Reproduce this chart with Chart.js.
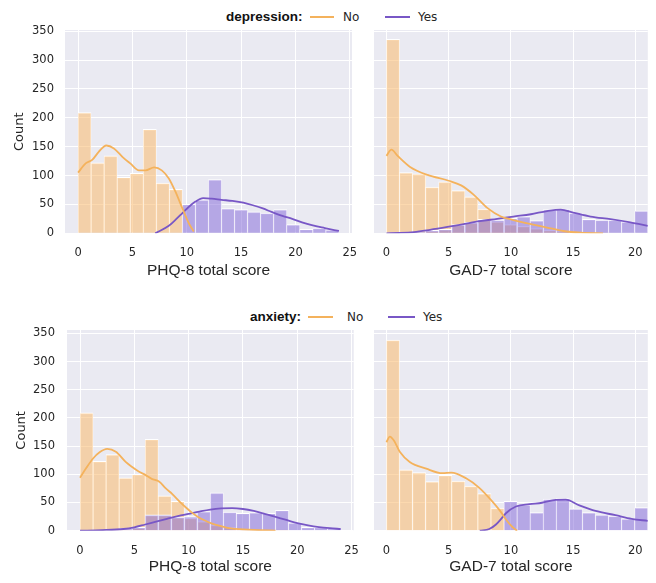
<!DOCTYPE html>
<html>
<head>
<meta charset="utf-8">
<script src="https://cdn.jsdelivr.net/npm/chart.js@4.4.0/dist/chart.umd.min.js"></script>
<style>
  body { margin:0; background:#fff; width:656px; height:583px; position:relative; overflow:hidden; font-family:"DejaVu Sans"; color:#262626; }
  canvas { position:absolute; }
  .lg { position:absolute; font-size:12px; line-height:14px; white-space:nowrap; }
  .lgTitle { font-family:"Liberation Sans"; font-weight:bold; font-size:13.5px; color:#111; }
  .sw { position:absolute; height:2px; }
</style>
</head>
<body>
<div class="lg lgTitle" style="left:226px; top:10px">depression:</div>
<div class="sw" style="left:310px; top:16px; width:24px; background:#f4b25c"></div>
<div class="lg" style="left:343px; top:10px">No</div>
<div class="sw" style="left:385px; top:16px; width:25px; background:#7857c6"></div>
<div class="lg" style="left:418px; top:10px">Yes</div>

<div class="lg lgTitle" style="left:250px; top:310px">anxiety:</div>
<div class="sw" style="left:308px; top:316px; width:25px; background:#f4b25c"></div>
<div class="lg" style="left:347px; top:310px">No</div>
<div class="sw" style="left:388px; top:316px; width:27px; background:#7857c6"></div>
<div class="lg" style="left:423px; top:310px">Yes</div>

<canvas id="tl" width="372" height="280" style="left:0; top:10px"></canvas>
<canvas id="tr" width="292" height="280" style="left:364px; top:10px"></canvas>
<canvas id="bl" width="372" height="275" style="left:0; top:308px"></canvas>
<canvas id="br" width="292" height="275" style="left:364px; top:308px"></canvas>

<script>
// histogram bin centres (20 bins each)
const phqBins = [0.6, 1.8, 3.0, 4.2, 5.4, 6.6, 7.8, 9.0, 10.2, 11.4, 12.6, 13.8, 15.0, 16.2, 17.4, 18.6, 19.8, 21.0, 22.2, 23.4];
const gadBins = [0.525, 1.575, 2.625, 3.675, 4.725, 5.775, 6.825, 7.875, 8.925, 9.975, 11.025, 12.075, 13.125, 14.175, 15.225, 16.275, 17.325, 18.375, 19.425, 20.475];

const phqTicks = [0, 5, 10, 15, 20, 25];
const gadTicks = [0, 5, 10, 15, 20];
const countTicks = [0, 50, 100, 150, 200, 250, 300, 350];

// depression: PHQ-8
const depPhqNo  = [209, 122, 134, 97, 104, 180, 87, 76, 0, 0, 0, 0, 0, 0, 0, 0, 0, 0, 0, 0];
const depPhqYes = [0, 0, 0, 0, 0, 0, 0, 0, 50, 58, 93, 43, 41, 37, 35, 41, 15, 7, 9, 6];
const depPhqKdeNoX  = [0, 0.7, 1.3, 1.9, 2.6, 3.3, 4.1, 4.8, 5.6, 6.2, 7.0, 7.7, 8.35, 8.96, 9.6, 10.2, 10.65];
const depPhqKdeNoY  = [105, 121, 127, 141, 152, 147, 132, 121, 109, 109, 114, 109, 95, 72, 43, 17, 3];
const depPhqKdeYesX = [7.1, 8.35, 9.0, 9.6, 10.2, 10.8, 11.5, 12.3, 13.2, 14.2, 15.2, 16.0, 17.0, 17.8, 18.8, 19.7, 20.6, 21.5, 22.7, 24];
const depPhqKdeYesY = [0, 13, 24, 35, 46, 55, 61, 60, 58, 56, 53, 49, 43, 37, 30, 25, 19, 14, 9, 4];

// depression: GAD-7
const depGadNo  = [336, 105, 103, 80, 89, 74, 63, 42, 20, 15, 12, 8, 5, 3, 2, 1, 1, 0, 0, 0];
const depGadYes = [0, 0, 2, 5, 7, 15, 19, 24, 23, 26, 29, 22, 41, 42, 35, 24, 23, 23, 20, 39];
const depGadKdeNoX  = [0, 0.4, 0.9, 1.9, 3.3, 5.0, 6.0, 7.0, 8.1, 9.2, 10.2, 11.6, 12.9, 14.2, 15.6, 17.4];
const depGadKdeNoY  = [134, 145, 134, 115, 101, 91, 83, 67, 44, 29, 23, 16, 10, 4, 1, 0];
const depGadKdeYesX = [0, 1, 2.2, 3.5, 4.9, 6.2, 7.5, 8.9, 10.2, 11.6, 12.9, 14.0, 15.0, 16.4, 18.0, 19.6, 21];
const depGadKdeYesY = [0, 0.5, 2, 6, 11, 16, 21, 25, 29, 33, 38.5, 41, 36, 29, 24.5, 19, 13];

// anxiety: PHQ-8
const anxPhqNo  = [209, 123, 135, 94, 100, 162, 62, 52, 22, 16, 10, 6, 3, 2, 1, 1, 0, 0, 0, 0];
const anxPhqYes = [0, 0, 1, 4, 6, 28, 28, 24, 25, 34, 67, 33, 31, 32, 31, 36, 14, 6, 6, 4];
const anxPhqKdeNoX  = [0, 0.6, 1.2, 1.8, 2.5, 3.3, 4.2, 4.8, 5.4, 6.0, 6.6, 7.3, 7.9, 8.5, 9.1, 9.7, 10.3, 10.9, 11.5, 12.1, 13, 13.9, 15, 16.5, 18];
const anxPhqKdeNoY  = [94, 112, 128, 139, 145, 140, 122, 113, 105, 99, 92, 87, 75, 65, 53, 42, 32, 24, 18, 13, 8, 4, 2.5, 1, 0];
const anxPhqKdeYesX = [0, 2, 4, 5, 6, 7, 8, 9, 10, 11, 12, 13, 14, 15, 16, 17, 18, 19, 20, 21, 22, 23, 24];
const anxPhqKdeYesY = [0, 1, 3, 6, 11, 16, 21, 26, 30, 34, 37.5, 39.5, 40, 38.5, 35, 30, 24.5, 19, 13.5, 9.5, 6.5, 4.5, 3];

// anxiety: GAD-7
const anxGadNo  = [338, 108, 103, 87, 98, 88, 79, 66, 40, 0, 0, 0, 0, 0, 0, 0, 0, 0, 0, 0];
const anxGadYes = [0, 0, 0, 0, 0, 0, 0, 0, 0, 52, 46, 32, 56, 57, 39, 32, 28, 26, 21, 41];
const anxGadKdeNoX  = [0, 0.27, 0.6, 1.07, 1.87, 3.2, 4.5, 5.2, 6.4, 7.46, 8.5, 9.1, 9.6, 10.1, 10.5];
const anxGadKdeNoY  = [157, 167, 160, 140, 122, 110, 102, 103, 93, 76, 52, 36, 20, 7, 0];
const anxGadKdeYesX = [7.5, 8.26, 8.8, 9.33, 9.6, 10.4, 11.5, 12.5, 13.6, 14.4, 15.5, 16.8, 18.4, 19.7, 21];
const anxGadKdeYesY = [0, 3, 11, 24, 31, 43, 47, 49.6, 54.5, 55, 45, 35, 27.5, 21, 17.5];

const orangeLine = '#f4b25c';
const purpleLine = '#7857c6';
const orangeFill = 'rgba(250,186,110,0.55)';
const purpleFill = 'rgba(128,100,215,0.5)';

const plotBg = {
  id: 'plotBg',
  beforeDraw(chart) {
    const a = chart.chartArea, ctx = chart.ctx;
    ctx.save();
    ctx.fillStyle = '#eaeaf2';
    ctx.fillRect(a.left, a.top, a.width, a.height);
    ctx.restore();
  }
};

function pts(xs, ys) {
  return xs.map((x, i) => ({ x: x, y: ys[i] }));
}

function lineSet(xs, ys, color) {
  return { type: 'line', data: pts(xs, ys), borderColor: color, borderWidth: 1.8,
    pointRadius: 0, fill: false, cubicInterpolationMode: 'monotone' };
}

function barSet(bins, counts, color) {
  return { type: 'bar', data: pts(bins, counts), backgroundColor: color, borderColor: '#ffffff',
    borderWidth: { top: 1, left: 0.6, right: 0.6, bottom: 0 }, grouped: false,
    barPercentage: 1, categoryPercentage: 1 };
}

function makePanel(id, p) {
  new Chart(document.getElementById(id), {
    type: 'bar',
    data: {
      datasets: [
        lineSet(p.kdeNoX, p.kdeNoY, orangeLine),
        lineSet(p.kdeYesX, p.kdeYesY, purpleLine),
        barSet(p.bins, p.yes, purpleFill),
        barSet(p.bins, p.no, orangeFill)
      ]
    },
    options: {
      responsive: false,
      animation: false,
      devicePixelRatio: 1,
      layout: { padding: p.pad },
      plugins: { legend: { display: false }, tooltip: { enabled: false } },
      scales: {
        x: {
          type: 'linear', min: p.xMin, max: p.xMax, offset: false,
          grid: { color: '#ffffff', lineWidth: 1, drawTicks: false, offset: false },
          border: { display: false },
          afterBuildTicks: s => { s.ticks = p.xTicks.map(v => ({ value: v })); },
          afterFit: s => { s.height = p.xHeight; },
          ticks: { padding: 13, color: '#262626', font: { family: 'DejaVu Sans', size: 11.5 } },
          title: { display: true, text: p.xTitle, color: '#262626',
            font: { family: 'Liberation Sans', size: 15.5 }, padding: { top: 0, bottom: p.titlePad } }
        },
        y: {
          min: 0, max: p.yMax,
          grid: { color: '#ffffff', lineWidth: 1, drawTicks: false },
          border: { display: false },
          afterBuildTicks: s => { s.ticks = countTicks.map(v => ({ value: v })); },
          afterFit: s => { s.width = p.yWidth; },
          ticks: { display: p.yLabels, padding: p.yPad, color: '#262626', font: { family: 'DejaVu Sans', size: 11.5 } },
          title: { display: p.yLabels, text: 'Count', color: '#262626',
            font: { family: 'DejaVu Sans', size: 13 }, padding: { top: p.countPad, bottom: 0 } }
        }
      }
    },
    plugins: [plotBg]
  });
}

makePanel('tl', { bins: phqBins, no: depPhqNo, yes: depPhqYes,
  kdeNoX: depPhqKdeNoX, kdeNoY: depPhqKdeNoY, kdeYesX: depPhqKdeYesX, kdeYesY: depPhqKdeYesY,
  xMin: -1.2, xMax: 25.2, xTicks: phqTicks, xTitle: 'PHQ-8 total score', yMax: 352,
  pad: { top: 20, right: 20, left: 0, bottom: 0 }, xHeight: 56.7, titlePad: 9.7,
  yWidth: 65, yLabels: true, yPad: 11, countPad: 12 });

makePanel('tr', { bins: gadBins, no: depGadNo, yes: depGadYes,
  kdeNoX: depGadKdeNoX, kdeNoY: depGadKdeNoY, kdeYesX: depGadKdeYesX, kdeYesY: depGadKdeYesY,
  xMin: -1, xMax: 21, xTicks: gadTicks, xTitle: 'GAD-7 total score', yMax: 352,
  pad: { top: 20, right: 7, left: 10, bottom: 0 }, xHeight: 56.7, titlePad: 9.7,
  yWidth: 0, yLabels: false, yPad: 0, countPad: 0 });

makePanel('bl', { bins: phqBins, no: anxPhqNo, yes: anxPhqYes,
  kdeNoX: anxPhqKdeNoX, kdeNoY: anxPhqKdeNoY, kdeYesX: anxPhqKdeYesX, kdeYesY: anxPhqKdeYesY,
  xMin: -1.2, xMax: 25.2, xTicks: phqTicks, xTitle: 'PHQ-8 total score', yMax: 356,
  pad: { top: 22, right: 17, left: 0, bottom: 0 }, xHeight: 52.3, titlePad: 6.7,
  yWidth: 67, yLabels: true, yPad: 12, countPad: 14 });

makePanel('br', { bins: gadBins, no: anxGadNo, yes: anxGadYes,
  kdeNoX: anxGadKdeNoX, kdeNoY: anxGadKdeNoY, kdeYesX: anxGadKdeYesX, kdeYesY: anxGadKdeYesY,
  xMin: -1, xMax: 21, xTicks: gadTicks, xTitle: 'GAD-7 total score', yMax: 356,
  pad: { top: 22, right: 7, left: 10, bottom: 0 }, xHeight: 52.3, titlePad: 6.7,
  yWidth: 0, yLabels: false, yPad: 0, countPad: 0 });
</script>
</body>
</html>
